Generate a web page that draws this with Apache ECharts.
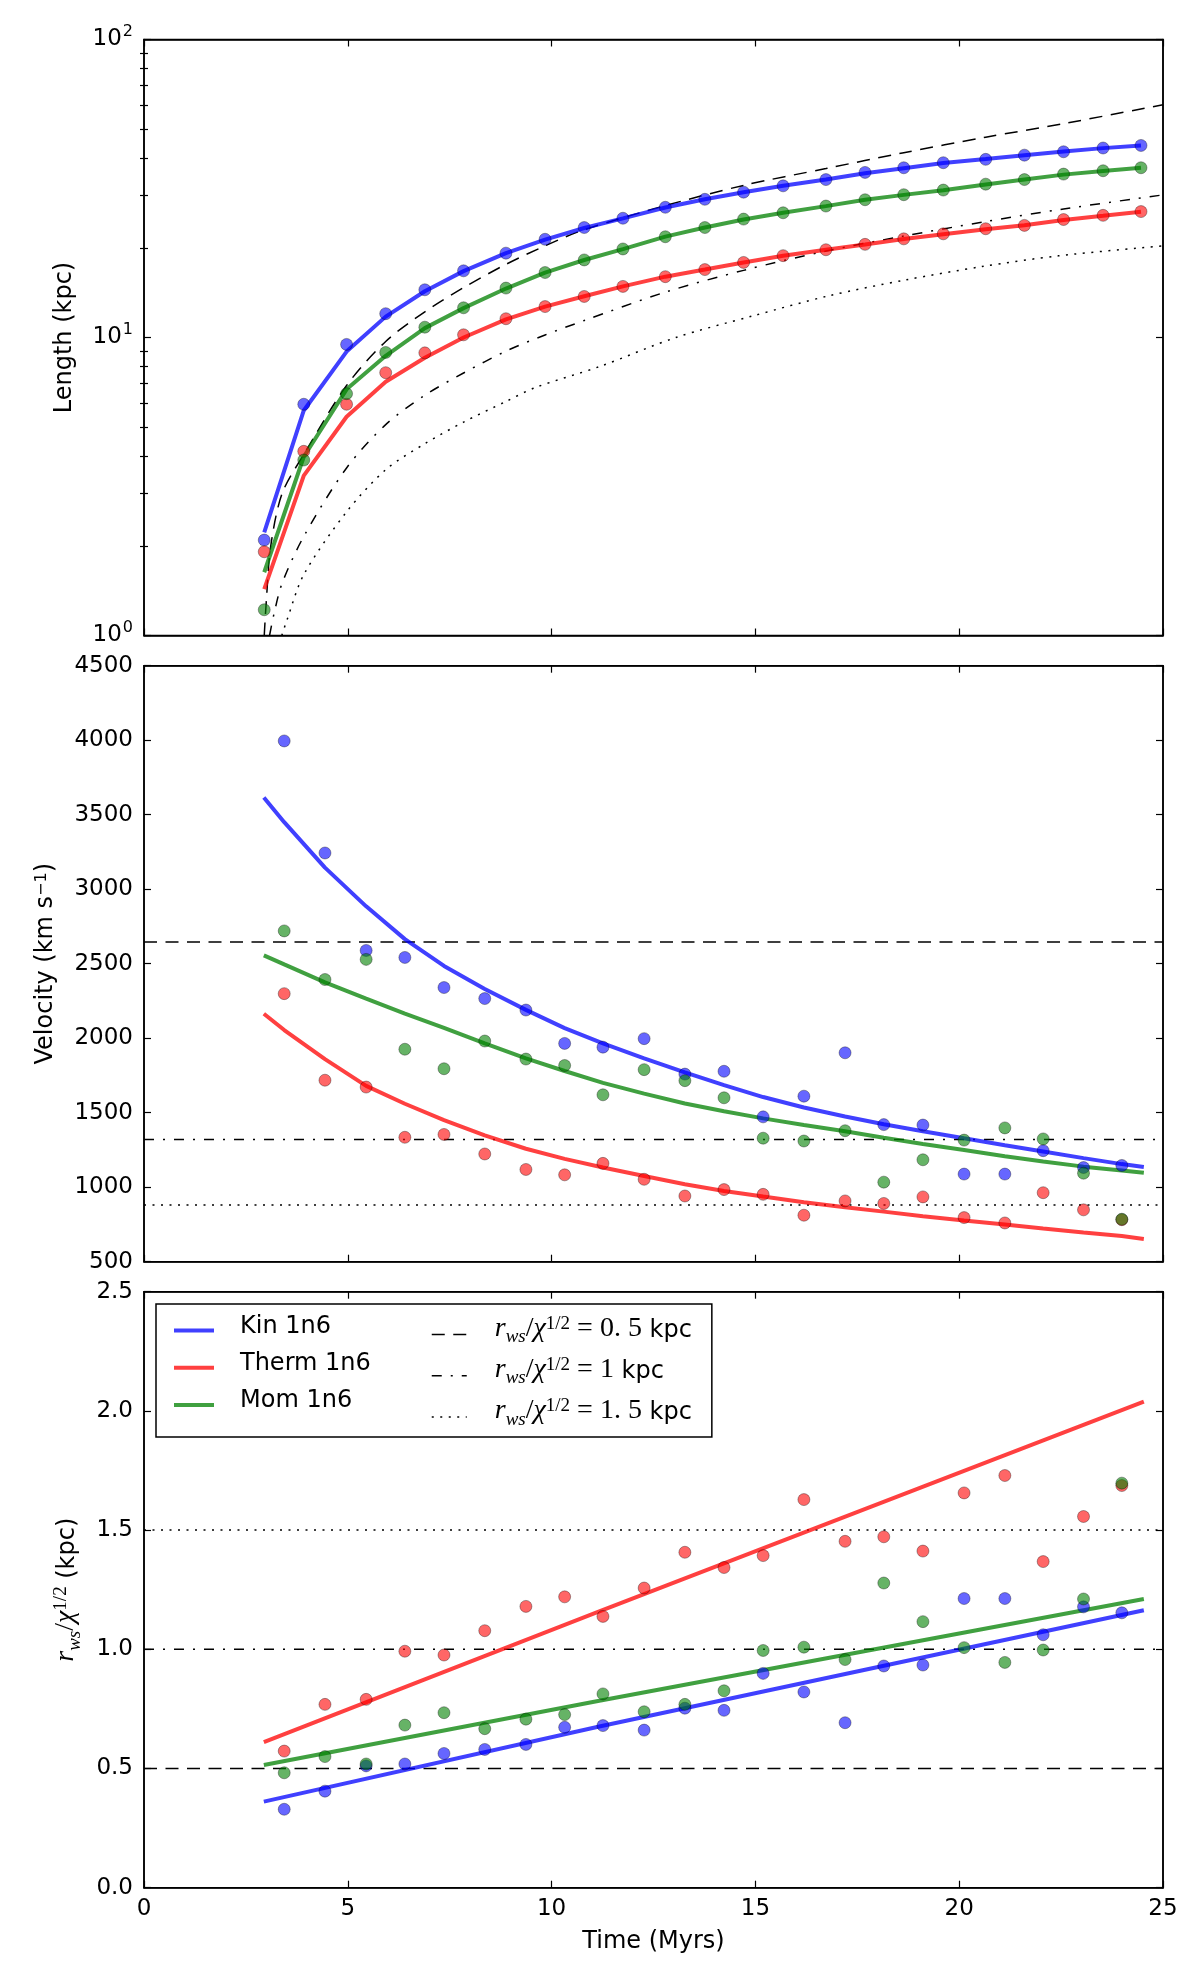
<!DOCTYPE html>
<html><head><meta charset="utf-8">
<script src="https://cdn.jsdelivr.net/npm/echarts@6/dist/echarts.min.js"></script>
<style>html,body{margin:0;padding:0;background:#fff}#c{width:1200px;height:1988px}</style>
</head><body><div id="c"></div>
<script>
// ---------------- DATA ----------------
// Top panel: length (kpc) vs time (Myrs)
const tLen = [2.95, 3.92, 4.97, 5.93, 6.89, 7.84, 8.88, 9.84, 10.80, 11.75, 12.79, 13.76, 14.71, 15.68, 16.73, 17.69, 18.64, 19.61, 20.65, 21.60, 22.56, 23.53, 24.46];
const kinLen   = [2.09, 5.97, 9.48, 12.02, 14.46, 16.74, 19.19, 21.36, 23.39, 25.13, 27.35, 29.09, 30.74, 32.28, 33.88, 35.81, 37.12, 38.59, 39.61, 40.92, 42.0, 43.24, 44.1];
const thermLen = [1.91, 4.15, 5.97, 7.62, 8.88, 10.21, 11.56, 12.70, 13.73, 14.84, 16.0, 16.9, 17.86, 18.82, 19.70, 20.54, 21.43, 22.28, 23.17, 23.78, 24.88, 25.70, 26.46];
const momLen   = [1.22, 3.88, 6.48, 8.91, 10.83, 12.58, 14.65, 16.52, 18.21, 19.82, 21.78, 23.39, 24.96, 26.21, 27.61, 28.99, 30.14, 31.24, 32.70, 33.88, 35.34, 36.27, 37.12];
const kinLenFit   = [2.22, 5.69, 8.97, 11.75, 14.3, 16.7, 19.2, 21.3, 23.3, 25.1, 27.3, 29.1, 30.7, 32.3, 33.9, 35.6, 37.0, 38.5, 39.7, 40.9, 42.1, 43.2, 44.1];
const thermLenFit = [1.43, 3.44, 5.42, 7.1, 8.55, 10.0, 11.5, 12.7, 13.75, 14.85, 16.0, 16.9, 17.85, 18.8, 19.7, 20.5, 21.4, 22.2, 23.1, 23.8, 24.8, 25.6, 26.4];
const momLenFit   = [1.63, 3.98, 6.70, 8.68, 10.75, 12.55, 14.6, 16.5, 18.2, 19.8, 21.8, 23.4, 24.9, 26.2, 27.6, 29.0, 30.1, 31.2, 32.6, 33.9, 35.2, 36.2, 37.1];
// reference curves (top panel)
const tRef05 = [2.95, 3.0, 3.11, 3.39, 3.92, 4.97, 5.93, 6.89, 7.84, 8.88, 9.84, 10.80, 12.79, 14.71, 16.73, 18.64, 20.65, 22.56, 25.0];
const ref05Len = [1.0, 1.3, 2.0, 3.0, 4.05, 6.9, 9.7, 12.2, 14.7, 17.6, 20.3, 23.0, 27.7, 32.4, 36.9, 41.7, 47.0, 52.2, 60.4];
const tRef1 = [3.08, 3.2, 3.39, 3.92, 4.97, 5.93, 6.89, 7.84, 8.88, 9.84, 10.80, 12.79, 14.71, 16.73, 18.64, 20.65, 22.56, 25.0];
const ref1Len = [1.0, 1.2, 1.5, 2.15, 3.65, 5.1, 6.4, 7.6, 9.0, 10.2, 11.4, 14.2, 16.8, 19.5, 21.9, 24.5, 27.0, 30.1];
const tRef15 = [3.38, 3.5, 3.92, 4.97, 5.93, 6.89, 7.84, 8.88, 9.61, 11.19, 13.05, 14.92, 16.8, 18.68, 20.56, 22.44, 25.0];
const ref15Len = [1.0, 1.12, 1.6, 2.6, 3.6, 4.4, 5.2, 6.1, 6.8, 8.0, 10.0, 11.8, 13.8, 15.6, 17.3, 18.8, 20.3];

// Middle panel: velocity (km/s)
const tMid = [3.44, 4.44, 5.45, 6.40, 7.36, 8.36, 9.37, 10.32, 11.26, 12.27, 13.27, 14.23, 15.19, 16.19, 17.20, 18.15, 19.11, 20.12, 21.12, 22.06, 23.05, 23.99];
const kinVel   = [3995, 3243, 2589, 2542, 2340, 2266, 2189, 1965, 1940, 1997, 1759, 1778, 1472, 1611, 1902, 1420, 1417, 1088, 1088, 1245, 1132, 1146];
const thermVel = [2299, 1718, 1672, 1335, 1354, 1223, 1119, 1083, 1160, 1053, 941, 984, 952, 812, 908, 891, 935, 796, 760, 963, 848, 782];
const momVel   = [2720, 2394, 2529, 1926, 1795, 1981, 1860, 1817, 1620, 1789, 1715, 1600, 1329, 1310, 1379, 1034, 1184, 1316, 1398, 1324, 1094, 785];
const tVelFit = [2.94, 3.44, 4.44, 5.45, 6.40, 7.36, 8.36, 9.37, 10.32, 11.26, 12.27, 13.27, 14.23, 15.19, 16.19, 17.20, 18.15, 19.11, 20.12, 21.12, 22.06, 23.05, 23.99, 24.53];
const kinVelFit   = [3616, 3450, 3145, 2885, 2665, 2485, 2330, 2190, 2068, 1965, 1865, 1770, 1685, 1605, 1535, 1475, 1422, 1375, 1328, 1282, 1240, 1195, 1155, 1135];
const thermVelFit = [2164, 2055, 1860, 1680, 1560, 1450, 1348, 1258, 1190, 1132, 1075, 1020, 975, 937, 899, 865, 836, 805, 776, 750, 723, 696, 672, 652];
const momVelFit   = [2556, 2495, 2375, 2265, 2165, 2070, 1965, 1865, 1780, 1700, 1628, 1562, 1510, 1462, 1418, 1376, 1332, 1290, 1250, 1208, 1172, 1138, 1112, 1097];
const refVel = [2645, 1320, 880];

// Bottom panel: r_ws / chi^(1/2) (kpc)
const kinR   = [0.329, 0.405, 0.511, 0.519, 0.563, 0.580, 0.601, 0.673, 0.680, 0.661, 0.753, 0.744, 0.899, 0.821, 0.692, 0.930, 0.934, 1.213, 1.213, 1.061, 1.178, 1.153];
const thermR = [0.573, 0.769, 0.790, 0.992, 0.976, 1.078, 1.180, 1.220, 1.138, 1.257, 1.407, 1.343, 1.393, 1.628, 1.453, 1.472, 1.412, 1.656, 1.729, 1.368, 1.557, 1.687];
const momR   = [0.482, 0.550, 0.519, 0.682, 0.734, 0.667, 0.707, 0.726, 0.813, 0.738, 0.769, 0.826, 0.995, 1.009, 0.957, 1.278, 1.116, 1.007, 0.945, 0.997, 1.211, 1.697];
const tLin = [2.94, 11.17, 24.53];
const kinRFit   = [0.361, 0.676, 1.164];
const thermRFit = [0.611, 1.159, 2.039];
const momRFit   = [0.515, 0.784, 1.211];
const refR = [0.5, 1.0, 1.5];

const xRange = [0, 25];
const seriesNames = ['Kin 1n6', 'Therm 1n6', 'Mom 1n6'];
const refLabels = ['0. 5', '1', '1. 5'];

// ---------------- STYLE ----------------
const C_KIN = 'rgba(0,0,255,0.75)', C_THERM = 'rgba(255,0,0,0.75)', C_MOM = 'rgba(0,128,0,0.75)';
const DASH = [13, 8.5], DASHDOT = [10, 9, 2, 9], DOT = [2, 6.5];
const SANS = 'DejaVu Sans', SERIF = 'Liberation Serif';
const LEFT = 144, WIDTH = 1019, HEIGHT = 596;
const TOPS = [39.5, 665.7, 1291.7];

const zip = (xs, ys) => xs.map((x, i) => [x, ys[i]]);

const mathRich = {
  mi:  {fontFamily: SERIF, fontStyle: 'italic', fontSize: 28, lineHeight: 24, verticalAlign: 'bottom', padding: [0, 0, 4, 0], color: '#000'},
  mi0: {fontFamily: SERIF, fontStyle: 'italic', fontSize: 28, lineHeight: 24, verticalAlign: 'bottom', padding: [0, 0, 4, 23], color: '#000'},
  mo:  {fontFamily: SERIF, fontSize: 28, lineHeight: 24, verticalAlign: 'bottom', padding: [0, 0, 4, 0], color: '#000'},
  sub: {fontFamily: SERIF, fontStyle: 'italic', fontSize: 19, lineHeight: 16, verticalAlign: 'bottom', padding: [0, 0, 0, 0], color: '#000'},
  sup: {fontFamily: SERIF, fontSize: 19, lineHeight: 16, verticalAlign: 'bottom', padding: [0, 0, 13, 0], color: '#000'},
  ssup:{fontFamily: SANS, fontSize: 16, lineHeight: 16, verticalAlign: 'bottom', padding: [0, 0, 12, 0], color: '#000'},
  t:   {fontFamily: SANS, fontSize: 24, lineHeight: 24, verticalAlign: 'bottom', padding: [0, 0, 4, 0], color: '#000'},
  t0:  {fontFamily: SANS, fontSize: 24, lineHeight: 24, verticalAlign: 'bottom', padding: [0, 0, 4, 21], color: '#000'}
};

const tickLine = {color: '#000', width: 1.2};
const axLine = {show: true, onZero: false, lineStyle: {color: '#000', width: 1.5}};
const labelStyle = {color: '#000', fontFamily: SANS, fontSize: 23};

function xAx(gi, pos, showLabel) {
  return {
    gridIndex: gi, type: 'value', min: xRange[0], max: xRange[1], interval: 5, position: pos,
    axisLine: axLine, splitLine: {show: false},
    axisTick: {show: true, inside: true, length: 7, lineStyle: tickLine},
    axisLabel: Object.assign({show: showLabel, margin: 10, showMinLabel: true, showMaxLabel: true}, labelStyle),
    name: showLabel ? 'Time (Myrs)' : '', nameLocation: 'middle', nameGap: 42,
    nameTextStyle: {color: '#000', fontFamily: SANS, fontSize: 24}
  };
}
function yVal(gi, pos, min, max, interval, fmt, name, nameGap) {
  const show = pos === 'left';
  return {
    gridIndex: gi, type: 'value', min, max, interval, position: pos,
    axisLine: axLine, splitLine: {show: false},
    axisTick: {show: true, inside: true, length: 7, lineStyle: tickLine},
    axisLabel: Object.assign({show, margin: 11, showMinLabel: true, showMaxLabel: true, formatter: fmt}, labelStyle),
    name: show ? name : '', nameLocation: 'middle', nameRotate: 90, nameGap,
    nameTextStyle: {color: '#000', fontFamily: SANS, fontSize: 24, rich: mathRich}
  };
}
function yLog(pos) {
  const show = pos === 'left';
  return {
    gridIndex: 0, type: 'log', logBase: 10, min: 1, max: 100, position: pos,
    axisLine: axLine, splitLine: {show: false},
    axisTick: {show: true, inside: true, length: 7, lineStyle: tickLine},
    axisLabel: {show, margin: 11, showMinLabel: true, showMaxLabel: true,
      formatter: v => '{b|10}{s|' + Math.round(Math.log10(v)) + '}',
      rich: {
        b: {fontFamily: SANS, fontSize: 23, lineHeight: 23, verticalAlign: 'bottom', color: '#000'},
        s: {fontFamily: SANS, fontSize: 16, lineHeight: 16, verticalAlign: 'bottom', padding: [0, 0, 11, 1], color: '#000'}
      }},
    name: show ? 'Length (kpc)' : '', nameLocation: 'middle', nameRotate: 90, nameGap: 67,
    nameTextStyle: {color: '#000', fontFamily: SANS, fontSize: 24}
  };
}
// minor log ticks at 2..9 and 20..90 (positions in decades)
const minorVals = [2,3,4,5,6,7,8,9,20,30,40,50,60,70,80,90].map(v => Math.log10(v));
function yMinor(pos) {
  return {
    gridIndex: 0, type: 'value', min: 0, max: 2, position: pos,
    axisLine: {show: false}, axisLabel: {show: false}, splitLine: {show: false},
    axisTick: {show: true, inside: true, length: 4, customValues: minorVals, lineStyle: tickLine}
  };
}

function fit(name, xs, ys, color, xi, yi) {
  return {type: 'line', name, data: zip(xs, ys), xAxisIndex: xi, yAxisIndex: yi, symbol: 'none',
    lineStyle: {color, width: 4}, itemStyle: {color}, z: 3, silent: true};
}
function pts(name, xs, ys, color, xi, yi) {
  return {type: 'scatter', name, data: zip(xs, ys), xAxisIndex: xi, yAxisIndex: yi, symbol: 'circle', symbolSize: 12,
    itemStyle: {color, borderColor: 'rgba(0,0,0,0.6)', borderWidth: 0.7}, z: 4, silent: true};
}
function ref(name, xs, ys, dash, xi, yi, smooth) {
  return {type: 'line', name, data: zip(xs, ys), xAxisIndex: xi, yAxisIndex: yi, symbol: 'none', smooth: smooth || false,
    lineStyle: {color: '#000', width: 1.5, type: dash}, itemStyle: {color: '#000'}, z: 2, silent: true};
}

const refNames = ['ref05', 'ref1', 'ref15'];
const dashes = [DASH, DASHDOT, DOT];

const series = [
  // top panel
  ref(refNames[0], tRef05, ref05Len, DASH, 0, 0, 0.3),
  ref(refNames[1], tRef1, ref1Len, DASHDOT, 0, 0, 0.3),
  ref(refNames[2], tRef15, ref15Len, DOT, 0, 0, 0.3),
  fit(seriesNames[0], tLen, kinLenFit, C_KIN, 0, 0),
  fit(seriesNames[1], tLen, thermLenFit, C_THERM, 0, 0),
  fit(seriesNames[2], tLen, momLenFit, C_MOM, 0, 0),
  pts('kinP0', tLen, kinLen, C_KIN, 0, 0),
  pts('thermP0', tLen, thermLen, C_THERM, 0, 0),
  pts('momP0', tLen, momLen, C_MOM, 0, 0),
  // middle panel
  ...refVel.map((v, i) => ref(refNames[i], xRange, [v, v], dashes[i], 2, 4)),
  fit(seriesNames[0], tVelFit, kinVelFit, C_KIN, 2, 4),
  fit(seriesNames[1], tVelFit, thermVelFit, C_THERM, 2, 4),
  fit(seriesNames[2], tVelFit, momVelFit, C_MOM, 2, 4),
  pts('kinP1', tMid, kinVel, C_KIN, 2, 4),
  pts('thermP1', tMid, thermVel, C_THERM, 2, 4),
  pts('momP1', tMid, momVel, C_MOM, 2, 4),
  // bottom panel
  ...refR.map((v, i) => ref(refNames[i], xRange, [v, v], dashes[i], 4, 6)),
  fit(seriesNames[0], tLin, kinRFit, C_KIN, 4, 6),
  fit(seriesNames[1], tLin, thermRFit, C_THERM, 4, 6),
  fit(seriesNames[2], tLin, momRFit, C_MOM, 4, 6),
  pts('kinP2', tMid, kinR, C_KIN, 4, 6),
  pts('thermP2', tMid, thermR, C_THERM, 4, 6),
  pts('momP2', tMid, momR, C_MOM, 4, 6)
];

const mathName = '{mi|r}{sub|ws}{mo|/}{mi|χ}{sup|1/2}';

const option = {
  animation: false,
  backgroundColor: '#fff',
  grid: TOPS.map(t => ({left: LEFT, top: t, width: WIDTH, height: HEIGHT, show: true,
    borderColor: '#000', borderWidth: 1.5, backgroundColor: 'transparent', containLabel: false})),
  xAxis: [xAx(0, 'bottom', false), xAx(0, 'top', false), xAx(1, 'bottom', false), xAx(1, 'top', false), xAx(2, 'bottom', true), xAx(2, 'top', false)],
  yAxis: [
    yLog('left'), yLog('right'), yMinor('left'), yMinor('right'),
    yVal(1, 'left', 500, 4500, 500, v => String(v), '{t|Velocity (km s}{ssup|−1}{t|)}', 82),
    yVal(1, 'right', 500, 4500, 500, v => String(v), '', 82),
    yVal(2, 'left', 0, 2.5, 0.5, v => v.toFixed(1), mathName + '{t| (kpc)}', 60),
    yVal(2, 'right', 0, 2.5, 0.5, v => v.toFixed(1), '', 60)
  ],
  legend: [
    {data: seriesNames, orient: 'vertical', left: 156, top: 1304, itemWidth: 40, itemHeight: 14, itemGap: 9.3,
     padding: [10.4, 341, 20, 16], borderColor: '#000', borderWidth: 1.5, backgroundColor: '#fff',
     selectedMode: false, itemStyle: {opacity: 0}, lineStyle: {width: 4},
     formatter: n => '{t0|' + n + '}', textStyle: {rich: mathRich}},
    {data: refNames, orient: 'vertical', left: 431, top: 1304, itemWidth: 35, itemHeight: 14, itemGap: 9.3,
     padding: [10.4, 0, 0, 0], selectedMode: false, itemStyle: {opacity: 0}, lineStyle: {width: 1.5},
     formatter: n => '{mi0|r}{sub|ws}{mo|/}{mi|χ}{sup|1/2}{mo| = ' + refLabels[refNames.indexOf(n)] + '}{t| kpc}',
     textStyle: {rich: mathRich}}
  ],
  series
};

const chart = echarts.init(document.getElementById('c'), null, {renderer: 'canvas'});
chart.setOption(option);
</script></body></html>
